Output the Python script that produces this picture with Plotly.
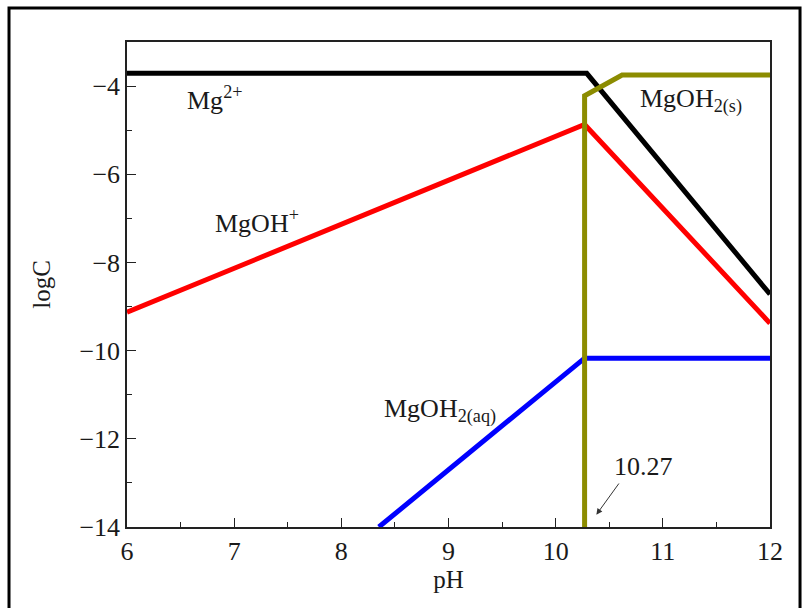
import plotly.graph_objects as go

# Data
mg2_ph = [6.0, 10.29, 12.0]
mg2_logc = [-3.71, -3.71, -8.72]

mgoh_ph = [6.0, 10.27, 12.0]
mgoh_logc = [-9.13, -4.87, -9.38]

mgoh2aq_ph = [8.35, 10.27, 12.0]
mgoh2aq_logc = [-14.0, -10.17, -10.17]

mgoh2s_ph = [10.27, 10.27, 10.62, 12.0]
mgoh2s_logc = [-14.0, -4.22, -3.75, -3.75]

x_ticks = [6, 7, 8, 9, 10, 11, 12]
y_ticks = [-14, -12, -10, -8, -6, -4]

FONT = "Liberation Serif"
LW = 5
TXT = "#1a1a1a"

fig = go.Figure()
fig.add_trace(go.Scatter(x=mg2_ph, y=mg2_logc, mode="lines",
                         line=dict(color="black", width=LW), showlegend=False))
fig.add_trace(go.Scatter(x=mgoh_ph, y=mgoh_logc, mode="lines",
                         line=dict(color="#FF0000", width=LW), showlegend=False))
fig.add_trace(go.Scatter(x=mgoh2aq_ph, y=mgoh2aq_logc, mode="lines",
                         line=dict(color="#0000FF", width=LW), showlegend=False))
fig.add_trace(go.Scatter(x=mgoh2s_ph, y=mgoh2s_logc, mode="lines",
                         line=dict(color="#8C8C00", width=LW), showlegend=False))

labels = [
    (6.82, -4.27, "Mg<sup>2+</sup>"),
    (7.21, -7.08, "MgOH<sup>+</sup>"),
    (11.26, -4.32, "MgOH<sub>2(s)</sub>"),
    (8.92, -11.35, "MgOH<sub>2(aq)</sub>"),
]
for x, y, t in labels:
    fig.add_annotation(x=x, y=y, text=t, showarrow=False,
                       font=dict(family=FONT, size=26, color=TXT))

fig.add_annotation(x=10.38, y=-13.72, ax=10.6, ay=-12.98, axref="x", ayref="y",
                   text="", showarrow=True, arrowhead=2, arrowsize=1.2,
                   arrowwidth=1, arrowcolor="#333333")
fig.add_annotation(x=10.82, y=-12.62, text="10.27", showarrow=False,
                   font=dict(family=FONT, size=26, color=TXT))

# outer frame
fig.add_shape(type="rect", xref="paper", yref="paper",
              x0=-0.1835, x1=1.0467, y0=-0.25, y1=1.070,
              line=dict(color="black", width=3), layer="above")

axis_common = dict(
    showgrid=False, zeroline=False, showline=True, linecolor="#222222",
    linewidth=1.5, mirror=True, ticks="inside", ticklen=9, tickwidth=1.2,
    tickcolor="#222222", tickfont=dict(family=FONT, size=26, color=TXT),
)
fig.update_xaxes(range=[6, 12], tickvals=x_ticks, **axis_common,
                 minor=dict(ticks="inside", ticklen=5, tickwidth=1.2,
                            tickcolor="#222222", dtick=0.5),
                 title=dict(text="pH", font=dict(family=FONT, size=25, color=TXT),
                            standoff=4))
fig.update_yaxes(range=[-14, -3], tickvals=y_ticks, **axis_common,
                 minor=dict(ticks="inside", ticklen=5, tickwidth=1.2,
                            tickcolor="#222222", dtick=1),
                 title=dict(text="logC", font=dict(family=FONT, size=25, color=TXT),
                            standoff=22))

fig.update_layout(width=812, height=608,
                  margin=dict(l=127, r=42, t=42, b=81),
                  plot_bgcolor="white", paper_bgcolor="white")

fig.write_html("out.html")
